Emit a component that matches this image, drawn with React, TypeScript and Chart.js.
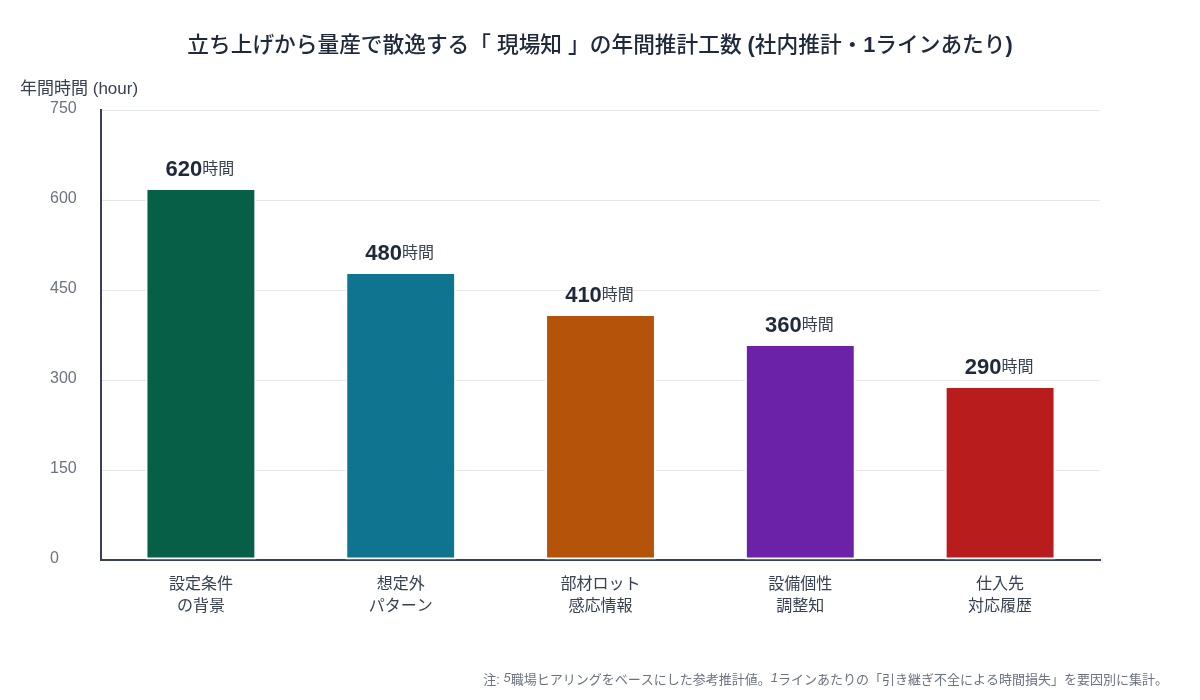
import React, { useEffect, useRef } from 'react';
import { Chart, registerables } from 'chart.js';

Chart.register(...registerables);

const categories: string[][] = [
  ['設定条件', 'の背景'],
  ['想定外', 'パターン'],
  ['部材ロット', '感応情報'],
  ['設備個性', '調整知'],
  ['仕入先', '対応履歴'],
];
const hours: number[] = [620, 480, 410, 360, 290];
const barColors: string[] = ['#065f46', '#0e7490', '#b45309', '#6b21a8', '#b91c1c'];
const yTicks: number[] = [0, 150, 300, 450, 600, 750];

// title pieces: [text, bold]
const titleParts: [string, boolean][] = [
  ['立ち上げから量産で散逸する「 現場知 」の年間推計工数 ', false],
  ['(', true],
  ['社内推計・', false],
  ['1', true],
  ['ラインあたり', false],
  [')', true],
];
const axisTitle = '年間時間 (hour)';
const unitText = '時間';
// footnote pieces: [text, italic]
const noteParts: [string, boolean][] = [
  ['注: ', false],
  ['5', true],
  ['職場ヒアリングをベースにした参考推計値。', false],
  ['1', true],
  ['ラインあたりの「引き継ぎ不全による時間損失」を要因別に集計。', false],
];

const FONT = '"Liberation Sans", Arial, "Noto Sans CJK JP", sans-serif';

const textPlugin = {
  id: 'textPlugin',
  afterDraw(chart: Chart) {
    const ctx = chart.ctx;
    ctx.save();

    // title, centred, latin bits bold
    ctx.fillStyle = '#1e293b';
    ctx.textAlign = 'left';
    ctx.textBaseline = 'middle';
    const tFont = (b: boolean) => `${b ? 'bold' : '500'} 21.7px ${FONT}`;
    let tw = 0;
    titleParts.forEach(([t, b]) => {
      ctx.font = tFont(b);
      tw += ctx.measureText(t).width;
    });
    let tx = 600 - tw / 2;
    titleParts.forEach(([t, b]) => {
      ctx.font = tFont(b);
      ctx.fillText(t, tx, 46);
      tx += ctx.measureText(t).width;
    });

    // y axis title, horizontal at top-left
    ctx.fillStyle = '#374151';
    ctx.font = `17px ${FONT}`;
    ctx.fillText(axisTitle, 20, 89);

    // value labels above bars
    const meta = chart.getDatasetMeta(0);
    meta.data.forEach((bar: any, i: number) => {
      const num = String(hours[i]);
      ctx.font = `bold 22px ${FONT}`;
      const w1 = ctx.measureText(num).width;
      ctx.font = `16px ${FONT}`;
      const w2 = ctx.measureText(unitText).width;
      const x0 = bar.x - (w1 + w2) / 2 - 1;
      const base = bar.y - 12;
      ctx.textBaseline = 'alphabetic';
      ctx.font = `bold 22px ${FONT}`;
      ctx.fillStyle = '#1e293b';
      ctx.fillText(num, x0, base);
      ctx.font = `16px ${FONT}`;
      ctx.fillStyle = '#374151';
      ctx.fillText(unitText, x0 + w1, base - 2);
    });

    // footnote, right aligned
    ctx.fillStyle = '#6b7280';
    ctx.textBaseline = 'middle';
    const fontFor = (it: boolean) => `${it ? 'italic ' : ''}13px ${FONT}`;
    let total = 0;
    noteParts.forEach(([t, it]) => {
      ctx.font = fontFor(it);
      total += ctx.measureText(t).width;
    });
    let x = 1168 - total;
    noteParts.forEach(([t, it]) => {
      ctx.font = fontFor(it);
      ctx.fillText(t, x, it ? 678 : 680);
      x += ctx.measureText(t).width;
    });

    ctx.restore();
  },
};

export default function App() {
  const chartRef = useRef<HTMLCanvasElement>(null);
  const chartInstance = useRef<Chart | null>(null);

  useEffect(() => {
    document.body.style.margin = '0';
    if (!chartRef.current) return;
    if (chartInstance.current) chartInstance.current.destroy();

    chartInstance.current = new Chart(chartRef.current, {
      type: 'bar',
      data: {
        labels: categories,
        datasets: [
          {
            data: hours,
            backgroundColor: barColors,
            borderColor: '#ffffff',
            borderWidth: 2,
            borderSkipped: false,
            categoryPercentage: 1,
            barPercentage: 0.555,
          },
        ],
      },
      options: {
        responsive: true,
        maintainAspectRatio: false,
        animation: false,
        layout: { padding: { top: 110, left: 50, right: 100, bottom: 0 } },
        plugins: {
          legend: { display: false },
          tooltip: { enabled: false },
          title: { display: false },
        },
        scales: {
          x: {
            grid: { display: false },
            border: { display: true, color: '#374151', width: 2 },
            ticks: {
              color: '#374151',
              padding: 6,
              font: { family: FONT, size: 16, lineHeight: 1.375 },
            },
            afterFit: (scale: any) => {
              scale.height = 140;
            },
          },
          y: {
            min: 0,
            max: 750,
            afterBuildTicks: (scale: any) => {
              scale.ticks = yTicks.map((v) => ({ value: v }));
            },
            grid: { color: '#e5e7eb', lineWidth: 1, drawTicks: false },
            border: { display: true, color: '#374151', width: 2 },
            ticks: {
              color: '#6b7280',
              crossAlign: 'far',
              labelOffset: -1,
              font: { family: FONT, size: 16 },
            },
            afterFit: (scale: any) => {
              scale.width = 51;
            },
          },
        },
      },
      plugins: [textPlugin],
    });

    return () => {
      if (chartInstance.current) {
        chartInstance.current.destroy();
        chartInstance.current = null;
      }
    };
  }, []);

  return (
    <div style={{ position: 'absolute', left: 0, top: 0, width: '1200px', height: '700px' }}>
      <canvas ref={chartRef}></canvas>
    </div>
  );
}
